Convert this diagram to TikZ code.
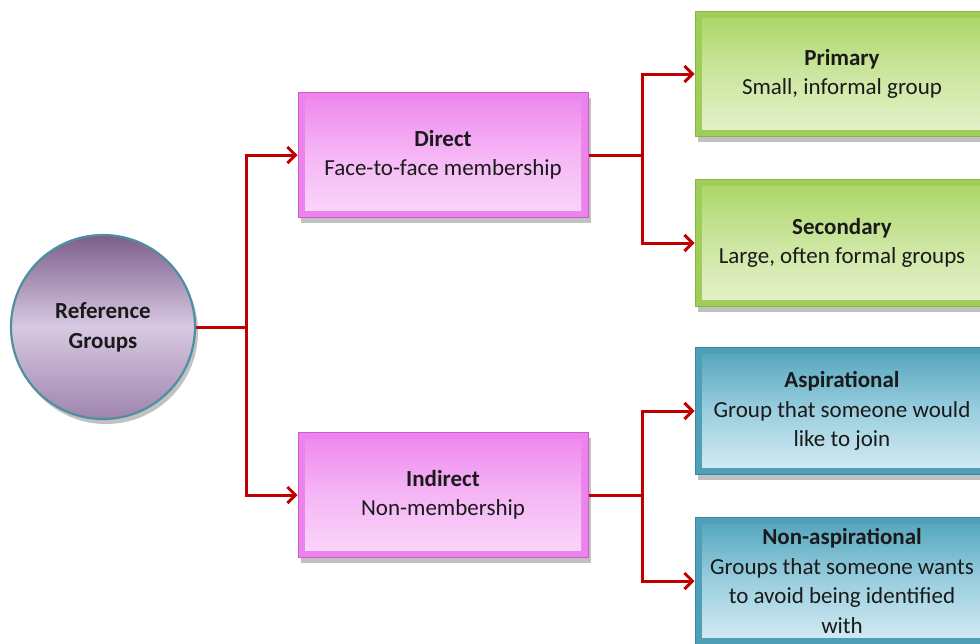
\documentclass[tikz,border=0pt]{standalone}
\usepackage{fontspec}
\setmainfont{Carlito}
\usetikzlibrary{arrows.meta,shadows}

\definecolor{linkred}{HTML}{C00000}
\definecolor{pinkframe}{HTML}{EC84EC}
\definecolor{pinkedge}{HTML}{CC5CCC}
\definecolor{pinktop}{HTML}{EE86EE}
\definecolor{pinkmid}{HTML}{F5B6F5}
\definecolor{pinkbot}{HTML}{FAD8FA}
\definecolor{greenframe}{HTML}{9FCD5A}
\definecolor{greenedge}{HTML}{86B840}
\definecolor{greentop}{HTML}{A9D662}
\definecolor{greenmid}{HTML}{CCE6A0}
\definecolor{greenbot}{HTML}{E6F2CC}
\definecolor{blueframe}{HTML}{4E9FB7}
\definecolor{blueedge}{HTML}{3A879E}
\definecolor{bluetop}{HTML}{4FA3BC}
\definecolor{bluemid}{HTML}{9BCFDF}
\definecolor{bluebot}{HTML}{D6EDF4}
\definecolor{discrim}{HTML}{4F8FA0}
\definecolor{disctop}{HTML}{7C5E8B}
\definecolor{discmid}{HTML}{D8C9E2}
\definecolor{discbot}{HTML}{9E84AD}
\definecolor{labeltext}{HTML}{1A1A1A}

\begin{document}
\begin{tikzpicture}[x=1pt,y=-1pt,
  shadowed/.style={drop shadow={shadow xshift=3pt,shadow yshift=-5pt,opacity=0.35,fill=black!70}},
  box/.style={rectangle,shadowed,minimum width=290pt,minimum height=125pt,
    inner sep=0pt,line width=1pt,align=center,text=labeltext,
    font=\fontsize{23}{29.5}\selectfont},
  bevel/.style n args={3}{path picture={
    \shade[top color=#1,bottom color=#3,middle color=#2]
      ([shift={(7pt,-7pt)}]path picture bounding box.north west) rectangle
      ([shift={(-7pt,7pt)}]path picture bounding box.south east);}},
  pinkbox/.style={box,fill=pinkframe,draw=pinkedge,bevel={pinktop}{pinkmid}{pinkbot}},
  greenbox/.style={box,fill=greenframe,draw=greenedge,minimum width=294pt,bevel={greentop}{greenmid}{greenbot}},
  bluebox/.style={box,fill=blueframe,draw=blueedge,minimum width=294pt,minimum height=127pt,bevel={bluetop}{bluemid}{bluebot}},
  disc/.style={circle,shadowed,minimum size=184pt,inner sep=0pt,draw=discrim,line width=2.2pt,
    top color=disctop,bottom color=discbot,middle color=discmid,align=center,text=labeltext,
    font=\fontsize{23}{30}\selectfont\bfseries},
  link/.style={draw=linkred,line width=3pt},
  linkarrow/.style={link,-{Straight Barb[length=8pt,width=16pt]}},
]
\useasboundingbox (0,0) rectangle (980,643);

% nodes
\node[disc] (ref) at (103,327) {Reference\\Groups};
\node[pinkbox] (direct) at (443,155) {\textbf{Direct}\\Face-to-face membership};
\node[pinkbox] (indirect) at (443,495) {\textbf{Indirect}\\Non-membership};
\node[greenbox] (primary) at (842,74) {\textbf{Primary}\\Small, informal group};
\node[greenbox,minimum height=127pt] (secondary) at (842,243) {\textbf{Secondary}\\Large, often formal groups};
\node[bluebox] (aspir) at (842,411) {\textbf{Aspirational}\\Group that someone would\\like to join};
\node[bluebox] (nonaspir) at (842,581) {\textbf{Non-aspirational}\\Groups that someone wants\\to avoid being identified\\with};

% branching points
\coordinate (j1) at (246,327);
\coordinate (j2) at (642,155);
\coordinate (j3) at (642,495);

% connector shadows
\begin{scope}[draw=black!35,line width=3pt,opacity=0.6,shift={(2,4)}]
  \draw (ref.east) -- (j1);
  \draw (j1 |- direct.west) -- (j1 |- indirect.west);
  \draw (direct.east) -- (j2);
  \draw (j2 |- primary.west) -- (j2 |- secondary.west);
  \draw (indirect.east) -- (j3);
  \draw (j3 |- aspir.west) -- (j3 |- nonaspir.west);
\end{scope}

% connectors
\draw[link] (ref.east) -- (j1);
\draw[linkarrow] (j1) |- (direct.west);
\draw[linkarrow] (j1) |- (indirect.west);
\draw[link] (direct.east) -- (j2);
\draw[linkarrow] (j2) |- (primary.west);
\draw[linkarrow] (j2) |- (secondary.west);
\draw[link] (indirect.east) -- (j3);
\draw[linkarrow] (j3) |- (aspir.west);
\draw[linkarrow] (j3) |- (nonaspir.west);
\end{tikzpicture}
\end{document}
